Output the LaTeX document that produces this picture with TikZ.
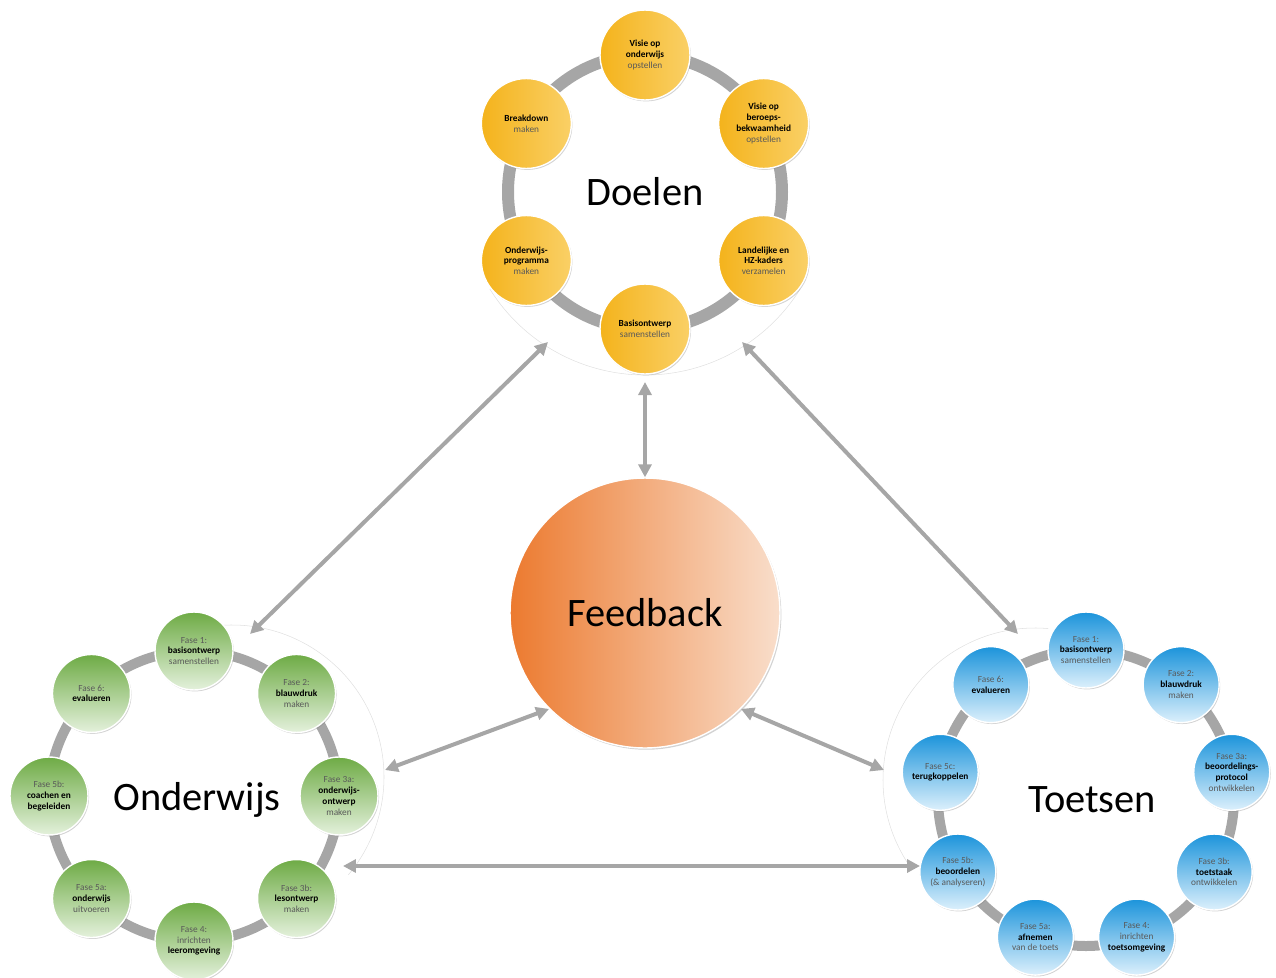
\documentclass[tikz,border=0pt]{standalone}
\usepackage{fontspec}
\setmainfont{Carlito}
\usetikzlibrary{arrows.meta, calc, shadows}

\definecolor{ringgray}{HTML}{A6A6A6}
\definecolor{subgray}{HTML}{595959}
\definecolor{yelL}{HTML}{F4B31C}
\definecolor{yelR}{HTML}{FAD066}
\definecolor{greenT}{HTML}{6EAB45}
\definecolor{greenB}{HTML}{E4F1DC}
\definecolor{blueT}{HTML}{1C94DB}
\definecolor{blueB}{HTML}{DCF0FC}
\definecolor{fbL}{HTML}{EC7A2F}
\definecolor{fbR}{HTML}{F9DECB}

\newcommand{\hl}[1]{\textbf{\textcolor{black}{#1}}}

\begin{document}
\begin{tikzpicture}[
  x=0.02cm, y=0.02cm,
  ring/.style = {draw=ringgray, line width=0.24cm},
  halo/.style = {draw=black!12, line width=0.3pt},
  stap/.style = {circle, draw=white, line width=0.8pt, align=center, inner sep=0pt,
    text=subgray, font=\fontsize{5.3}{6.1}\selectfont,
    drop shadow={shadow xshift=0.6pt, shadow yshift=-0.8pt, opacity=0.35}},
  doel/.style = {stap, minimum size=1.8cm, left color=yelL, right color=yelR},
  fase/.style = {stap, minimum size=1.56cm, top color=greenT, bottom color=greenB},
  toets/.style = {stap, minimum size=1.52cm, top color=blueT, bottom color=blueB},
  titel/.style = {font=\fontsize{23}{27}\selectfont},
  arrow/.style = {draw=ringgray, line width=0.08cm,
    {Triangle[length=0.26cm, width=0.26cm]}-{Triangle[length=0.26cm, width=0.26cm]}}
]
  \useasboundingbox (0,0) rectangle (1276,-978);

  % Centres of the three cycles
  \coordinate (doelenc) at (645,-192);
  \coordinate (onderwijsc) at (194,-796);
  \coordinate (toetsenc) at (1086,-798);

  % Faint halos round the cycles
  \draw[halo] ($(doelenc)+(-148:183)$) arc[start angle=-148, end angle=-32, radius=183];
  \draw[halo] ($(232,-777)+(95:152)$) arc[start angle=95, end angle=-40, radius=152];
  \draw[halo] ($(1035,-780)+(85:152)$) arc[start angle=85, end angle=215, radius=152];

  % Grey rings
  \draw[ring] (doelenc) circle (137);
  \draw[ring, line width=0.2cm] (onderwijsc) circle (145);
  \draw[ring, line width=0.2cm] (toetsenc) circle (148);

  % Doelen cycle
  \foreach \ang/\nm/\txt in {90/d1/{\hl{Visie op}\\\hl{onderwijs}\\opstellen},
      30/d2/{\hl{Visie op}\\\hl{beroeps-}\\\hl{bekwaamheid}\\opstellen},
      -30/d3/{\hl{Landelijke en}\\\hl{HZ-kaders}\\verzamelen},
      -90/d4/{\hl{Basisontwerp}\\samenstellen},
      -150/d5/{\hl{Onderwijs-}\\\hl{programma}\\maken},
      150/d6/{\hl{Breakdown}\\maken}}
  {
    \coordinate (p) at ($(doelenc)+(\ang:137)$);
    \node[doel] (\nm) at (p) {\txt};
  }
  \node[titel] (doelen) at (doelenc) {Doelen};

  % Onderwijs cycle
  \foreach \ang/\nm/\txt in {90/o1/{Fase 1:\\\hl{basisontwerp}\\samenstellen},
      45/o2/{Fase 2:\\\hl{blauwdruk}\\maken},
      0/o3/{Fase 3a:\\\hl{onderwijs-}\\\hl{ontwerp}\\maken},
      -45/o4/{Fase 3b:\\\hl{lesontwerp}\\maken},
      -90/o5/{Fase 4:\\inrichten\\\hl{leeromgeving}},
      -135/o6/{Fase 5a:\\\hl{onderwijs}\\uitvoeren},
      180/o7/{Fase 5b:\\\hl{coachen en}\\\hl{begeleiden}},
      135/o8/{Fase 6:\\\hl{evalueren}}}
  {
    \coordinate (p) at ($(onderwijsc)+(\ang:145)$);
    \node[fase] (\nm) at (p) {\txt};
  }
  \node[titel] (onderwijs) at (197,-800) {Onderwijs};

  % Toetsen cycle
  \foreach \ang/\nm/\txt in {90/t1/{Fase 1:\\\hl{basisontwerp}\\samenstellen},
      50/t2/{Fase 2:\\\hl{blauwdruk}\\maken},
      10/t3/{Fase 3a:\\\hl{beoordelings-}\\\hl{protocol}\\ontwikkelen},
      -30/t4/{Fase 3b:\\\hl{toetstaak}\\ontwikkelen},
      -70/t5/{Fase 4:\\inrichten\\\hl{toetsomgeving}},
      -110/t6/{Fase 5a:\\\hl{afnemen}\\van de toets},
      -150/t7/{Fase 5b:\\\hl{beoordelen}\\(\& analyseren)},
      170/t8/{Fase 5c:\\\hl{terugkoppelen}},
      130/t9/{Fase 6:\\\hl{evalueren}}}
  {
    \coordinate (p) at ($(toetsenc)+(\ang:148)$);
    \node[toets] (\nm) at (p) {\txt};
  }
  \node[titel] (toetsen) at (1092,-800) {Toetsen};

  % Feedback in the middle
  \node[circle, minimum size=5.4cm, inner sep=0pt, draw=white, line width=0.8pt,
        left color=fbL, right color=fbR, titel,
        drop shadow={shadow xshift=0.8pt, shadow yshift=-1pt, opacity=0.35}]
        (feedback) at (645,-613) {Feedback};

  % Arrow ends on the halos
  \coordinate (dL) at (548,-342);
  \coordinate (dR) at (742,-342);
  \coordinate (dB) at (645,-382);
  \coordinate (oT) at (250,-634);
  \coordinate (oR) at (385,-770);
  \coordinate (oB) at (343,-866);
  \coordinate (tT) at (1018,-634);
  \coordinate (tL) at (884,-770);
  \coordinate (tB) at (920,-866);

  % Connections
  \draw[arrow] (dB) -- (feedback.north);
  \draw[arrow] (dL) -- (oT);
  \draw[arrow] (dR) -- (tT);
  \draw[arrow] (feedback.-135) -- (oR);
  \draw[arrow] (feedback.-45) -- (tL);
  \draw[arrow] (oB) -- (tB);

\end{tikzpicture}
\end{document}
